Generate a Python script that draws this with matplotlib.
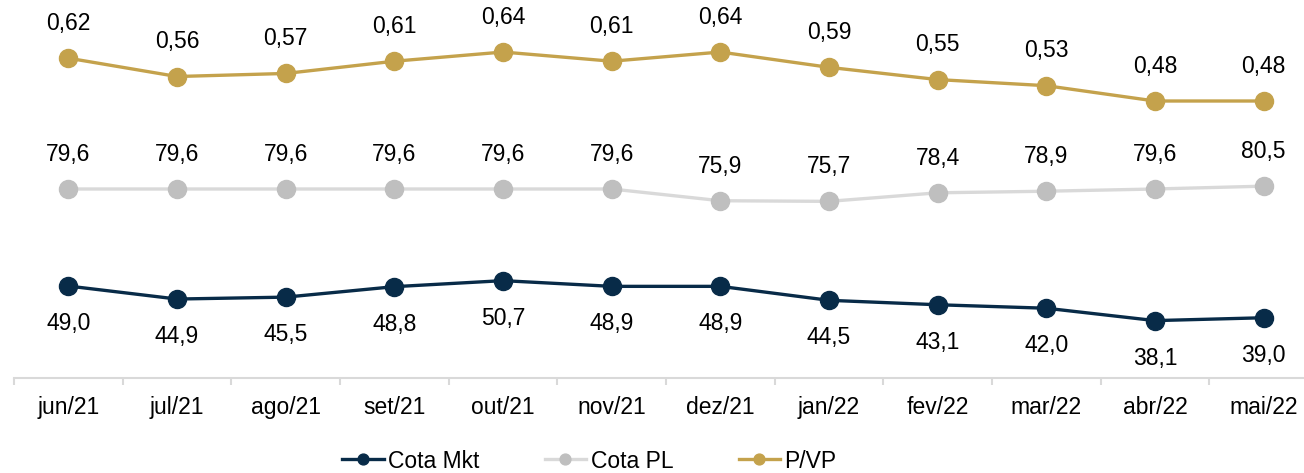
import matplotlib.pyplot as plt
from matplotlib.ticker import FixedLocator

plt.rcParams['font.family'] = ['Liberation Sans', 'DejaVu Sans']

meses = ['jun/21', 'jul/21', 'ago/21', 'set/21', 'out/21', 'nov/21',
         'dez/21', 'jan/22', 'fev/22', 'mar/22', 'abr/22', 'mai/22']
cota_mkt = [49.0, 44.9, 45.5, 48.8, 50.7, 48.9, 48.9, 44.5, 43.1, 42.0, 38.1, 39.0]
cota_pl = [79.6, 79.6, 79.6, 79.6, 79.6, 79.6, 75.9, 75.7, 78.4, 78.9, 79.6, 80.5]
p_vp = [0.62, 0.56, 0.57, 0.61, 0.64, 0.61, 0.64, 0.59, 0.55, 0.53, 0.48, 0.48]

navy = '#082B48'
gold = '#C4A24C'
gray_line = '#D9D9D9'
gray_mk = '#BFBFBF'
fs = 16.5

fig = plt.figure(figsize=(13.04, 4.73), dpi=100)
ax = fig.add_axes([14 / 1304, 95 / 473, 1.0, 378 / 473])
ax2 = ax.twinx()

x = list(range(len(meses)))

def fmt(v, nd):
    return f'{v:.{nd}f}'.replace('.', ',')

l1, = ax.plot(x, cota_mkt, color=navy, lw=2.4, marker='o', ms=13, clip_on=False)
l2, = ax.plot(x, cota_pl, color=gray_line, lw=2.4, marker='o', ms=13,
              markerfacecolor=gray_mk, markeredgecolor=gray_mk, clip_on=False)
l3, = ax2.plot(x, p_vp, color=gold, lw=2.4, marker='o', ms=13, clip_on=False)

for xi, v in zip(x, cota_mkt):
    ax.annotate(fmt(v, 1), (xi, v), xytext=(0, -27), textcoords='offset points',
                ha='center', va='center', fontsize=fs)
for xi, v in zip(x, cota_pl):
    ax.annotate(fmt(v, 1), (xi, v), xytext=(0, 25), textcoords='offset points',
                ha='center', va='center', fontsize=fs)
for xi, v in zip(x, p_vp):
    ax2.annotate(fmt(v, 2), (xi, v), xytext=(0, 25), textcoords='offset points',
                 ha='center', va='center', fontsize=fs)

ax.set_xlim(-0.5, len(meses) - 0.5)
ax.set_ylim(20, 139.2)
ax2.set_ylim(-0.425, 0.81)

for a in (ax, ax2):
    for s in ('top', 'left', 'right'):
        a.spines[s].set_visible(False)
    a.set_yticks([])
ax2.spines['bottom'].set_visible(False)
ax.spines['bottom'].set_color(gray_line)
ax.spines['bottom'].set_linewidth(1.5)

ax.set_xticks(x)
ax.set_xticklabels(meses, fontsize=fs)
ax.tick_params(axis='x', which='major', length=0, pad=13)
ax.xaxis.set_minor_locator(FixedLocator([i - 0.5 for i in range(len(meses) + 1)]))
ax.tick_params(axis='x', which='minor', length=5, width=1.5, color=gray_line)

fig.legend([l1, l2, l3], ['Cota Mkt', 'Cota PL', 'P/VP'], loc='center',
           bbox_to_anchor=(0.452, 1 - 461 / 473), ncol=3, frameon=False,
           fontsize=fs, handlelength=1.8, handletextpad=0.2, columnspacing=2.85,
           markerscale=0.6)

fig.savefig('out.png', dpi=100)
